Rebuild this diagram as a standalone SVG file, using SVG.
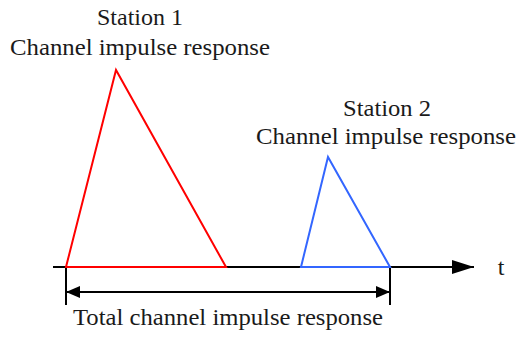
<svg xmlns="http://www.w3.org/2000/svg" width="519" height="337" viewBox="0 0 519 337">
  <style>
    text { font-family: 'Liberation Serif', 'Times New Roman', serif; font-size: 24px; fill: #1a1a1a; text-anchor: middle; }
    .axis { stroke: #000; stroke-width: 2; fill: none; }
    .resp1 { stroke: #ff0000; stroke-width: 2; fill: none; stroke-linejoin: miter; }
    .resp2 { stroke: #3366ff; stroke-width: 2; fill: none; stroke-linejoin: miter; }
  </style>
  <defs>
    <marker id="head" viewBox="0 0 14 12" refX="14" refY="6" markerWidth="14" markerHeight="12" markerUnits="userSpaceOnUse" orient="auto-start-reverse">
      <path d="M0,0 L14,6 L0,12 Z" fill="#000"/>
    </marker>
    <marker id="bighead" viewBox="0 0 22 14" refX="22" refY="7" markerWidth="22" markerHeight="14" markerUnits="userSpaceOnUse" orient="auto">
      <path d="M0,0 L22,7 L0,14 Z" fill="#000"/>
    </marker>
  </defs>

  <g id="connectors">
    <!-- time axis -->
    <line class="axis" x1="53" y1="267" x2="474" y2="267" marker-end="url(#bighead)"/>
    <!-- span markers -->
    <line class="axis" x1="66" y1="267" x2="66" y2="305"/>
    <line class="axis" x1="390" y1="267" x2="390" y2="305"/>
    <line class="axis" x1="66" y1="292" x2="390" y2="292" marker-start="url(#head)" marker-end="url(#head)"/>
  </g>

  <g id="station1">
    <polygon class="resp1" points="66,267 116,70 226,267"/>
    <text x="140" y="25" textLength="86" lengthAdjust="spacingAndGlyphs">Station 1</text>
    <text x="140" y="55" textLength="260" lengthAdjust="spacingAndGlyphs">Channel impulse response</text>
  </g>

  <g id="station2">
    <polygon class="resp2" points="301,267 328,157 390,267"/>
    <text x="387" y="116" textLength="88" lengthAdjust="spacingAndGlyphs">Station 2</text>
    <text x="386" y="144" textLength="260" lengthAdjust="spacingAndGlyphs">Channel impulse response</text>
  </g>

  <g id="axis-label">
    <text x="501" y="275">t</text>
  </g>

  <g id="total">
    <text x="228" y="325" textLength="310" lengthAdjust="spacingAndGlyphs">Total channel impulse response</text>
  </g>
</svg>
